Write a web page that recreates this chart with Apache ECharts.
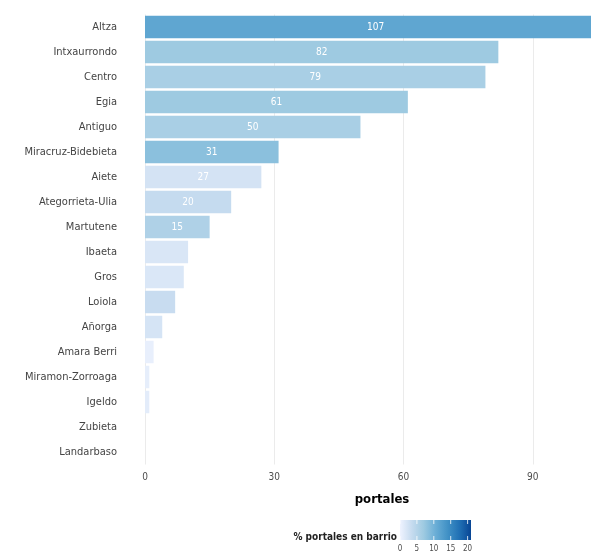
<!DOCTYPE html>
<html>
<head>
<meta charset="utf-8">
<script src="https://cdn.jsdelivr.net/npm/echarts@6/dist/echarts.min.js"></script>
<style>html,body{margin:0;padding:0;background:#fff;overflow:hidden}#c{width:640px;height:555px}</style>
</head>
<body>
<div id="c"></div>
<script>
const categories = ["Altza","Intxaurrondo","Centro","Egia","Antiguo","Miracruz-Bidebieta","Aiete","Ategorrieta-Ulia","Martutene","Ibaeta","Gros","Loiola","Añorga","Amara Berri","Miramon-Zorroaga","Igeldo","Zubieta","Landarbaso"];
const portales = [107,82,79,61,50,31,27,20,15,10,9,7,4,2,1,1,0,0];
const pctBarrio = [11.5,7.0,6.0,7.0,6.0,8.3,2.3,3.6,5.5,1.9,1.8,3.3,2.2,0.6,0.8,1.0,0.3,0.2];
const xTicks = [0,30,60,90];
const legendTicks = [0,5,10,15,20];

const blues = ['#eff3ff','#c6dbef','#9ecae1','#6baed6','#4292c6','#2171b5','#084594'];
const pctMax = 21;
const FONT = 'DejaVu Sans Condensed, DejaVu Sans, sans-serif';

const chart = echarts.init(document.getElementById('c'), null, {renderer:'canvas'});

const data = categories.map((c,i)=>[portales[i], c, pctBarrio[i]]);

// legend colorbar
const lbX = 400, lbY = 520, lbW = 71, lbH = 20;
const stops = blues.map((col,i)=>({offset:i/(blues.length-1), color:col}));
const legendEls = [
  {type:'rect', shape:{x:lbX,y:lbY,width:lbW,height:lbH}, style:{fill:{type:'linear',x:0,y:0,x2:1,y2:0,colorStops:stops}}},
  {type:'text', style:{text:'% portales en barrio', x:lbX-3, y:lbY+lbH/2+7, align:'right', verticalAlign:'middle', font:'bold 10px '+FONT, fill:'#222'}}
];
legendTicks.forEach(t=>{
  const px = lbX + t/pctMax*lbW;
  legendEls.push({type:'line', shape:{x1:px,y1:lbY,x2:px,y2:lbY+4}, style:{stroke:'#fff', lineWidth:0.8}});
  legendEls.push({type:'line', shape:{x1:px,y1:lbY+lbH-4,x2:px,y2:lbY+lbH}, style:{stroke:'#fff', lineWidth:0.8}});
  legendEls.push({type:'text', style:{text:String(t), x:px, y:lbY+lbH+9, align:'center', verticalAlign:'middle', font:'8px '+FONT, fill:'#4d4d4d'}});
});

chart.setOption({
  animation:false,
  grid:{left:145, top:14.5, width:474, bottom:90.5, containLabel:false},
  visualMap:{show:false, type:'continuous', dimension:2, min:0, max:pctMax, inRange:{color:blues}, seriesIndex:0},
  xAxis:{
    type:'value', min:0, max:110, interval:30,
    axisLine:{show:false}, axisTick:{show:false},
    splitLine:{show:true, lineStyle:{color:'#ebebeb', width:1}},
    axisLabel:{color:'#4d4d4d', fontSize:10, fontFamily:FONT, margin:8, showMaxLabel:false,
      formatter:v=> xTicks.includes(v) ? String(v) : ''},
    name:'portales', nameLocation:'middle', nameGap:29,
    nameTextStyle:{color:'#000', fontSize:13, fontWeight:'bold', fontFamily:FONT}
  },
  yAxis:{
    type:'category', data:categories, inverse:true,
    axisLine:{show:false}, axisTick:{show:false}, splitLine:{show:false},
    axisLabel:{color:'#444', fontSize:11, fontFamily:FONT, margin:28}
  },
  series:[{
    type:'bar', data:data, encode:{x:0,y:1},
    barCategoryGap:'10%',
    label:{show:true, position:'inside', color:'#fff', fontSize:10, fontFamily:FONT,
      formatter:p=> p.value[0] >= 15 ? String(p.value[0]) : ''}
  }],
  graphic:legendEls
});
</script>
</body>
</html>
